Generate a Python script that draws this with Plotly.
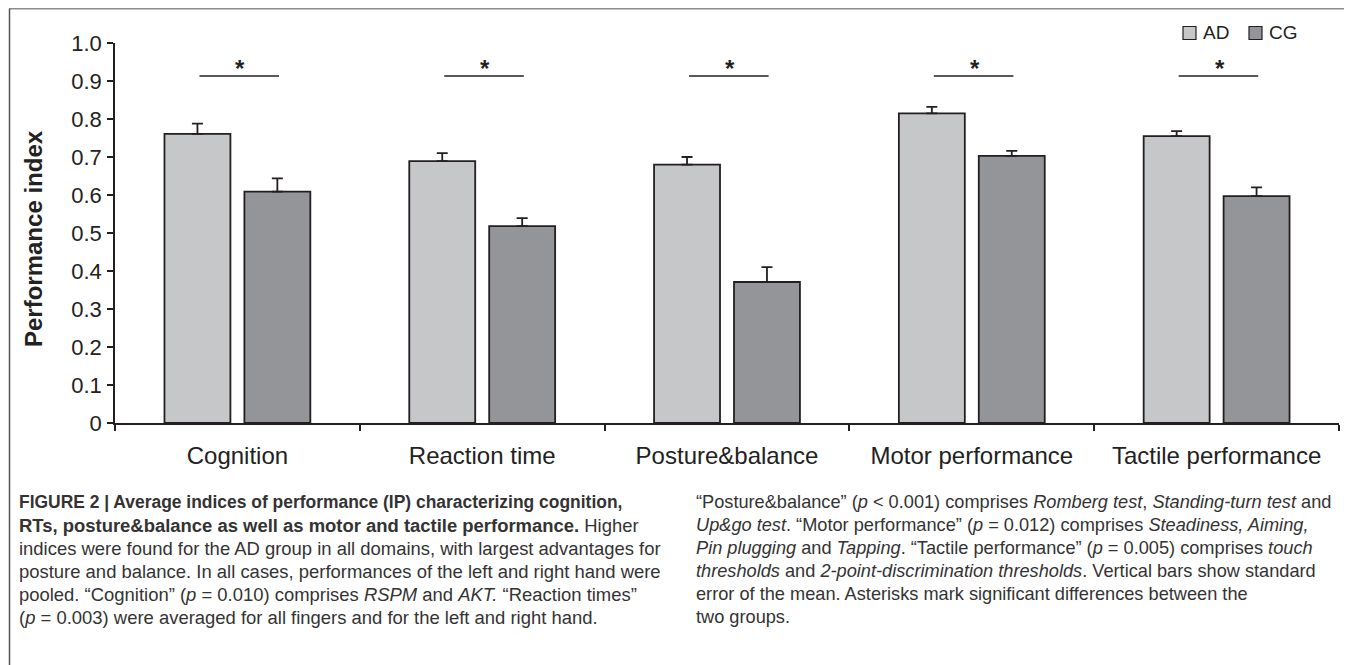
import plotly.graph_objects as go

categories = ["Cognition", "Reaction time", "Posture&balance", "Motor performance", "Tactile performance"]
ad_values = [0.761, 0.689, 0.680, 0.815, 0.755]
ad_errors = [0.027, 0.021, 0.020, 0.017, 0.013]
cg_values = [0.609, 0.518, 0.371, 0.703, 0.597]
cg_errors = [0.035, 0.021, 0.039, 0.013, 0.023]
sig_level = 0.913
ytick_vals = [0, 0.1, 0.2, 0.3, 0.4, 0.5, 0.6, 0.7, 0.8, 0.9, 1.0]
ytick_text = ["0", "0.1", "0.2", "0.3", "0.4", "0.5", "0.6", "0.7", "0.8", "0.9", "1.0"]
legend_names = ["AD", "CG"]

caption_left = [
    "<b>FIGURE 2 | Average indices of performance (IP) characterizing cognition,</b>",
    "<b>RTs, posture&balance as well as motor and tactile performance.</b> Higher",
    "indices were found for the AD group in all domains, with largest advantages for",
    "posture and balance. In all cases, performances of the left and right hand were",
    "pooled. \u201cCognition\u201d (<i>p</i> = 0.010) comprises <i>RSPM</i> and <i>AKT.</i> \u201cReaction times\u201d",
    "(<i>p</i> = 0.003) were averaged for all fingers and for the left and right hand.",
]
caption_right = [
    "\u201cPosture&balance\u201d (<i>p</i> &lt; 0.001) comprises <i>Romberg test</i>, <i>Standing-turn test</i> and",
    "<i>Up&go test</i>. \u201cMotor performance\u201d (<i>p</i> = 0.012) comprises <i>Steadiness, Aiming,</i>",
    "<i>Pin plugging</i> and <i>Tapping</i>. \u201cTactile performance\u201d (<i>p</i> = 0.005) comprises <i>touch</i>",
    "<i>thresholds</i> and <i>2-point-discrimination thresholds</i>. Vertical bars show standard",
    "error of the mean. Asterisks mark significant differences between the",
    "two groups.",
]

# page body has an 8px margin: the figure is drawn from (8, 8) of the window
OX, OY = 8, 8
W, H = 1352 - OX, 665 - OY
L, R, T, B = 115 - OX, 13, 43 - OY, 665 - 423
pw, ph = W - L - R, H - T - B


def px(x):
    return (x - OX - L) / pw


def py(y):
    return (H - B - (y - OY)) / ph


FONT = "Liberation Sans, Arial, sans-serif"
EDGE = "#231f20"
COLORS = ["#c6c7c9", "#939598"]

fig = go.Figure()
for name, vals, errs, col in [("AD", ad_values, ad_errors, COLORS[0]), ("CG", cg_values, cg_errors, COLORS[1])]:
    fig.add_trace(go.Bar(
        name=name, x=categories, y=vals, showlegend=False,
        marker=dict(color=col, line=dict(color=EDGE, width=1.8)),
        error_y=dict(type="data", array=errs, arrayminus=[0] * len(errs), symmetric=False,
                     color=EDGE, thickness=1.8, width=5.5),
    ))

shapes = []
annotations = []
for i, c in enumerate(categories):
    shapes.append(dict(type="line", xref="x", yref="y", x0=i - 0.155, x1=i + 0.17,
                       y0=sig_level, y1=sig_level, line=dict(color=EDGE, width=1.5)))
    annotations.append(dict(xref="x", yref="y", x=i + 0.012, y=sig_level + 0.02, text="<b>*</b>",
                            showarrow=False, yanchor="middle", font=dict(size=24, color=EDGE, family=FONT)))

# manual legend (squares + labels)
leg_sq_x = [1183, 1249]
leg_tx_x = [1201, 1267]
for k, name in enumerate(legend_names):
    shapes.append(dict(type="rect", xref="paper", yref="paper", x0=px(leg_sq_x[k]), x1=px(leg_sq_x[k] + 13),
                       y0=py(39.5), y1=py(26.5), fillcolor=COLORS[k], line=dict(color=EDGE, width=1.2)))
    annotations.append(dict(xref="paper", yref="paper", x=px(leg_tx_x[k]), y=py(33), text=name,
                            showarrow=False, xanchor="left", yanchor="middle",
                            font=dict(size=19, color="#222222", family=FONT)))

# frame lines of the figure panel
shapes.append(dict(type="line", xref="paper", yref="paper", x0=px(9), x1=px(1352), y0=py(8.8), y1=py(8.8),
                   line=dict(color="#8c8c8c", width=1.5)))
shapes.append(dict(type="line", xref="paper", yref="paper", x0=px(9.5), x1=px(9.5), y0=py(8.8), y1=py(665),
                   line=dict(color="#555555", width=1.5)))

annotations.append(dict(xref="paper", yref="paper", x=px(33), y=py(239), text="<b>Performance index</b>",
                        textangle=-90, showarrow=False, xanchor="center", yanchor="middle",
                        font=dict(size=24, color="#222222", family=FONT)))

left_sizes = [17.45, 18.45, 18.45, 18.45, 18.45, 18.45]
for k, line in enumerate(caption_left):
    annotations.append(dict(xref="paper", yref="paper", x=px(17), y=py(502 + 23 * k), text=line,
                            showarrow=False, xanchor="left", yanchor="middle", align="left",
                            font=dict(size=left_sizes[k], color="#333333", family=FONT)))
for k, line in enumerate(caption_right):
    annotations.append(dict(xref="paper", yref="paper", x=px(694), y=py(502 + 23 * k), text=line,
                            showarrow=False, xanchor="left", yanchor="middle", align="left",
                            font=dict(size=18.2, color="#333333", family=FONT)))

fig.update_layout(
    width=W, height=H,
    margin=dict(l=L, r=R, t=T, b=B, autoexpand=False),
    paper_bgcolor="white", plot_bgcolor="white",
    barmode="group", bargap=0.347, bargroupgap=0.175,
    font=dict(family=FONT, size=22, color="#222222"),
    showlegend=False,
    shapes=shapes, annotations=annotations,
    xaxis=dict(type="category", showline=True, linecolor=EDGE, linewidth=1.5, ticks="outside",
               tickson="boundaries", ticklen=6, tickwidth=1.5, tickcolor=EDGE, showgrid=False,
               zeroline=False, ticklabelstandoff=10, tickfont=dict(size=24, color="#222222")),
    yaxis=dict(range=[0, 1.0], showline=True, linecolor=EDGE, linewidth=1.5, ticks="outside",
               ticklen=6, tickwidth=1.5, tickcolor=EDGE, tickvals=ytick_vals, ticktext=ytick_text,
               showgrid=False, zeroline=False, ticklabelstandoff=1,
               tickfont=dict(size=22, color="#222222")),
)

fig.write_html("out.html")
